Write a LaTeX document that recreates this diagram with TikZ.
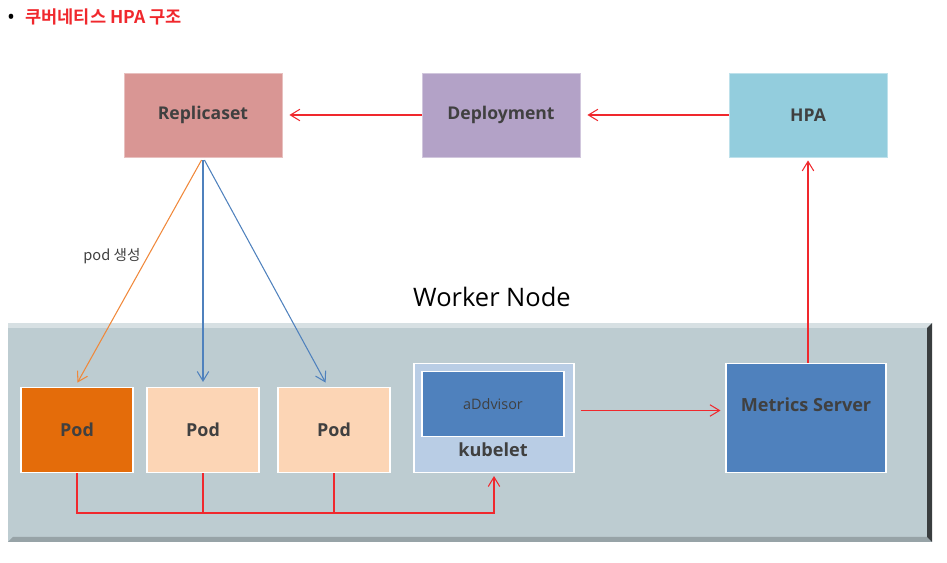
\documentclass[tikz,border=0pt]{standalone}
\usepackage{fontspec}
\setmainfont{Open Sans}
\newfontfamily\kr{Noto Sans CJK KR}[BoldFont={* Bold}]
\usetikzlibrary{arrows.meta}
\definecolor{rscol}{HTML}{D99694}
\definecolor{depcol}{HTML}{B3A2C7}
\definecolor{hpacol}{HTML}{93CDDD}
\definecolor{podhot}{HTML}{E46C0A}
\definecolor{podcol}{HTML}{FCD5B5}
\definecolor{kubecol}{HTML}{B9CDE5}
\definecolor{bluecol}{HTML}{4F81BD}
\definecolor{panelcol}{HTML}{BDCCD1}
\definecolor{txtcol}{HTML}{404040}
\definecolor{redcol}{HTML}{F0282D}
\definecolor{orcol}{HTML}{F0883A}
\begin{document}
\begin{tikzpicture}[
  x=0.02cm, y=-0.02cm,
  box/.style={rectangle, inner sep=0pt, fill=#1, draw=#1!60!white, line width=0.5pt,
    minimum width=3.16cm, minimum height=1.68cm, font=\fontsize{10}{12}\selectfont\bfseries, text=txtcol},
  podbox/.style={rectangle, inner sep=0pt, fill=#1, draw=white, line width=0.6pt,
    minimum width=2.24cm, minimum height=1.7cm, font=\fontsize{10.2}{12}\selectfont\bfseries, text=txtcol},
  lbl/.style={inner sep=0pt, text=txtcol, font=\fontsize{10.3}{12}\selectfont\bfseries},
  rarr/.style={draw=redcol, line width=0.6pt, -{Straight Barb[length=1.9mm, width=2.3mm]}},
  rline/.style={draw=redcol, line width=0.6pt},
  parr/.style={draw=#1, line width=0.6pt, -{Straight Barb[length=1.9mm, width=2.3mm]}}
]
\useasboundingbox (0,0) rectangle (947,563);

% title
\node[inner sep=0pt] (dot) at (11,19) {\fontsize{12}{12}\selectfont\textbullet};
\node[inner sep=0pt, anchor=west, text=redcol] (title) at (25,17) {\kr\fontsize{10}{12}\selectfont\bfseries 쿠버네티스 HPA 구조};

% top row
\node[box=rscol] (rs) at (203,115) {Replicaset};
\node[box=depcol] (dep) at (501,115) {Deployment};
\node[box=hpacol] (hpa) at (808,115) {HPA};

% worker node panel
\fill[panelcol] (8,323) rectangle (932,542);
\fill[panelcol!60!white] (8,323) rectangle (932,328);
\fill[panelcol!80!black] (8,542) -- (13,537) -- (927,537) -- (932,542) -- cycle;
\fill[black!70!panelcol] (932,323) -- (927,328) -- (927,537) -- (932,542) -- cycle;
\node[inner sep=0pt, font=\fontsize{14.5}{16}\selectfont] (wn) at (492,297) {Worker Node};

% pods
\node[podbox=podhot] (pod1) at (77,430) {Pod};
\node[podbox=podcol] (pod2) at (203,430) {Pod};
\node[podbox=podcol] (pod3) at (334,430) {Pod};

% kubelet
\node[rectangle, inner sep=0pt, fill=kubecol, draw=white, line width=0.6pt,
  minimum width=3.2cm, minimum height=2.18cm] (kube) at (494,418) {};
\node[rectangle, inner sep=0pt, fill=bluecol, draw=white, line width=0.8pt,
  minimum width=2.84cm, minimum height=1.3cm, text=txtcol,
  font=\fontsize{8.2}{9}\selectfont] (cad) at (493,404) {aDdvisor};
\node[lbl] (kubelbl) at (493,450) {kubelet};

% metrics server
\node[rectangle, inner sep=0pt, fill=bluecol, draw=white, line width=0.6pt,
  minimum width=3.2cm, minimum height=2.18cm] (ms) at (806,418) {};
\node[lbl] (mslbl) at (806,405) {Metrics Server};

% arrows
\draw[rarr, shorten >=0.14cm] (dep.west) -- (rs.east);
\draw[rarr, shorten >=0.14cm] (hpa.west) -- (dep.east);
\draw[rarr, shorten >=0.06cm] (ms.north -| hpa.south) -- (hpa.south);
\draw[rarr, shorten <=0.12cm, shorten >=0.1cm] ([yshift=0.15cm]kube.east) -- ([yshift=0.15cm]ms.west);

\draw[parr=orcol, shorten <=0.06cm, shorten >=0.1cm] (rs.south) -- ([xshift=-0.04cm]pod1.north)
  node[pos=0.43, left=0.14cm, inner sep=0pt, text=txtcol, font=\kr\fontsize{8.3}{9}\selectfont] (mk) {pod 생성};
\draw[parr=bluecol, shorten <=0.06cm, shorten >=0.1cm] (rs.south) -- (pod2.north);
\draw[parr=bluecol, shorten <=0.06cm, shorten >=0.1cm] (rs.south) -- ([xshift=-0.12cm]pod3.north);

% pod bus to kubelet
\coordinate (bus) at (0,513);
\draw[rline] (pod2.south) -- (pod2.south |- bus);
\draw[rline] (pod3.south) -- (pod3.south |- bus);
\draw[rarr, shorten >=0.06cm] (pod1.south) -- (pod1.south |- bus) -| (kube.south);
\end{tikzpicture}
\end{document}
